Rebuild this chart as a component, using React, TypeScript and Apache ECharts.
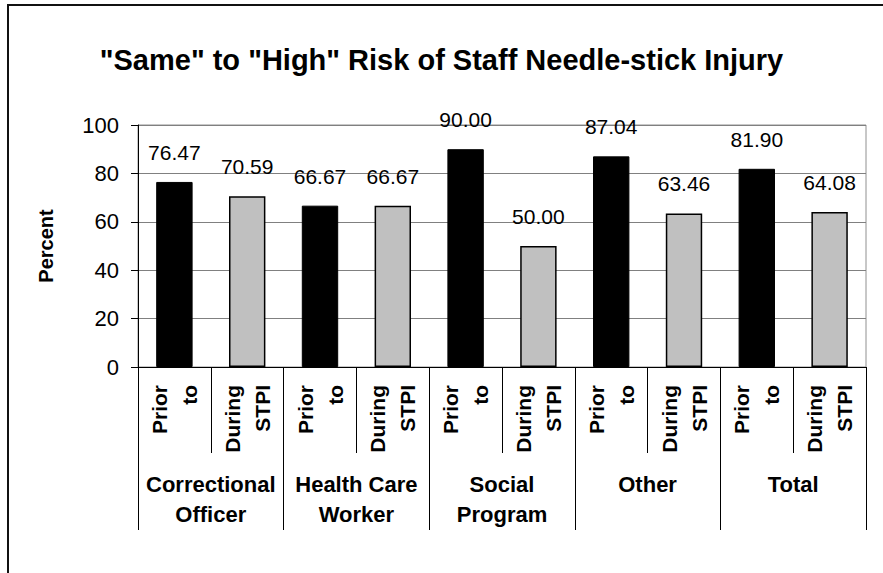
import React, { useEffect, useRef } from "react";
import * as echarts from "echarts";

const groups = ["Correctional\nOfficer", "Health Care\nWorker", "Social\nProgram", "Other", "Total"];
const periods = ["Prior\nto", "During\nSTPI"];
const priorValues = [76.47, 66.67, 90.0, 87.04, 81.9];
const duringValues = [70.59, 66.67, 50.0, 63.46, 64.08];
const yTicks = { min: 0, max: 100, interval: 20 };

const FONT = '"Liberation Sans", Arial, sans-serif';

export default function App() {
  const ref = useRef<HTMLDivElement>(null);
  useEffect(() => {
    if (!ref.current) return;
    const chart = echarts.init(ref.current, undefined, { renderer: "svg" });
    const cats: string[] = [];
    const priorData: (number | null)[] = [];
    const duringData: (number | null)[] = [];
    groups.forEach((_, i) => {
      cats.push(periods[0]);
      priorData.push(priorValues[i]);
      duringData.push(null);
      cats.push(periods[1]);
      priorData.push(null);
      duringData.push(duringValues[i]);
    });
    const label = {
      show: true,
      position: "top",
      distance: 19,
      fontSize: 21,
      fontFamily: FONT,
      color: "#000",
      formatter: (p: any) => Number(p.value).toFixed(2),
    };
    chart.setOption({
      animation: false,
      backgroundColor: "#fff",
      textStyle: { fontFamily: FONT },
      title: {
        text: '"Same" to "High" Risk of Staff Needle-stick Injury',
        left: "center",
        top: 40,
        textStyle: { fontSize: 29, fontWeight: "bold", color: "#000", fontFamily: FONT },
      },
      graphic: [
        {
          type: "rect",
          shape: { x: 8, y: 5, width: 900, height: 620 },
          style: { fill: "none", stroke: "#111", lineWidth: 2 },
          silent: true,
        },
      ],
      grid: {
        left: 138,
        right: 17,
        top: 125,
        bottom: 206,
        show: true,
        borderColor: "#909090",
        borderWidth: 1,
      },
      yAxis: {
        type: "value",
        min: yTicks.min,
        max: yTicks.max,
        interval: yTicks.interval,
        name: "Percent",
        nameLocation: "middle",
        nameRotate: 90,
        nameGap: 82,
        nameTextStyle: { fontSize: 20, fontWeight: "bold", color: "#000", fontFamily: FONT },
        axisLine: { show: true, lineStyle: { color: "#000", width: 1 } },
        axisTick: { show: true, length: 7, lineStyle: { color: "#000" } },
        axisLabel: { fontSize: 22, color: "#000", margin: 19, fontFamily: FONT },
        splitLine: { show: true, lineStyle: { color: "#808080", width: 1 } },
      },
      xAxis: [
        {
          type: "category",
          data: cats,
          position: "bottom",
          axisLine: { show: true, lineStyle: { color: "#000", width: 1 } },
          axisTick: { show: true, interval: 0, length: 86, lineStyle: { color: "#000" } },
          axisLabel: {
            interval: 0,
            rotate: 90,
            fontSize: 21,
            fontWeight: "bold",
            lineHeight: 30,
            margin: 18,
            color: "#000",
            fontFamily: FONT,
          },
        },
        {
          type: "category",
          data: groups,
          position: "bottom",
          offset: 86,
          axisLine: { show: false },
          axisTick: { show: true, interval: 0, length: 77, lineStyle: { color: "#000" } },
          axisLabel: {
            interval: 0,
            fontSize: 22,
            fontWeight: "bold",
            lineHeight: 30,
            margin: 16,
            color: "#000",
            fontFamily: FONT,
          },
        },
      ],
      series: [
        {
          name: "Prior to",
          type: "bar",
          xAxisIndex: 0,
          data: priorData,
          barWidth: "50%",
          barGap: "-100%",
          itemStyle: { color: "#000", borderColor: "#000", borderWidth: 1 },
          label,
        },
        {
          name: "During STPI",
          type: "bar",
          xAxisIndex: 0,
          data: duringData,
          barWidth: "50%",
          barGap: "-100%",
          itemStyle: { color: "#c0c0c0", borderColor: "#000", borderWidth: 1.5 },
          label,
        },
      ],
    });
    return () => chart.dispose();
  }, []);
  return (
    <div
      ref={ref}
      style={{ position: "absolute", left: 0, top: 0, width: 883, height: 573 }}
    />
  );
}
